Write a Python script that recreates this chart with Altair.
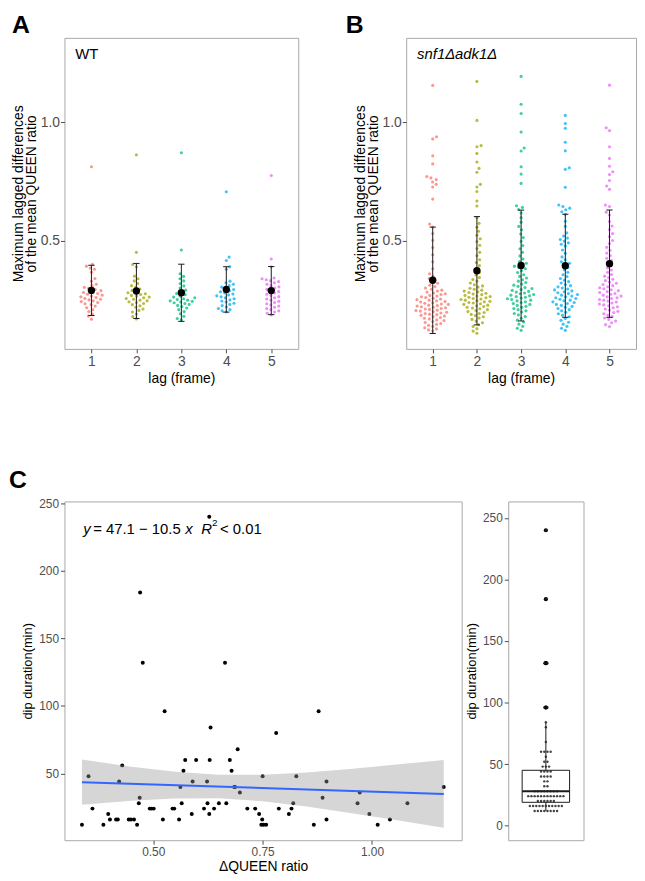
import altair as alt
import numpy as np
import pandas as pd

FONT = "Liberation Sans"
LAGS = [1, 2, 3, 4, 5]
LAG_COLORS = ["#F8766D", "#A3A500", "#00BF7D", "#00B0F6", "#E76BF3"]

# ---------------- Panel A (WT) ----------------
WT_1 = [0.812, 0.402, 0.394, 0.386, 0.381, 0.368, 0.342, 0.331, 0.318, 0.312, 0.305, 0.301, 0.296,
        0.291, 0.287, 0.283, 0.279, 0.276, 0.272, 0.268, 0.265, 0.262, 0.258, 0.255, 0.252, 0.248,
        0.245, 0.241, 0.236, 0.232, 0.226, 0.219, 0.211, 0.203, 0.192, 0.184, 0.171]
WT_2 = [0.862, 0.452, 0.401, 0.391, 0.352, 0.341, 0.332, 0.321, 0.312, 0.305, 0.298, 0.292, 0.287,
        0.282, 0.278, 0.275, 0.271, 0.268, 0.264, 0.261, 0.258, 0.255, 0.251, 0.248, 0.244, 0.241,
        0.237, 0.232, 0.227, 0.221, 0.214, 0.208, 0.201, 0.193, 0.182, 0.172]
WT_3 = [0.871, 0.462, 0.362, 0.351, 0.341, 0.332, 0.321, 0.311, 0.302, 0.293, 0.285, 0.279, 0.274,
        0.268, 0.264, 0.261, 0.257, 0.254, 0.251, 0.248, 0.246, 0.243, 0.240, 0.237, 0.233, 0.229,
        0.224, 0.218, 0.211, 0.203, 0.194, 0.183, 0.174, 0.168]
WT_4 = [0.707, 0.432, 0.418, 0.392, 0.381, 0.331, 0.324, 0.318, 0.312, 0.306, 0.301, 0.296, 0.291,
        0.286, 0.281, 0.277, 0.273, 0.269, 0.265, 0.261, 0.257, 0.252, 0.247, 0.243, 0.238, 0.233,
        0.228, 0.222, 0.216, 0.211, 0.206, 0.201]
WT_5 = [0.775, 0.424, 0.391, 0.344, 0.341, 0.337, 0.333, 0.329, 0.324, 0.318, 0.312, 0.307, 0.302,
        0.297, 0.292, 0.287, 0.281, 0.276, 0.271, 0.266, 0.261, 0.256, 0.251, 0.246, 0.241, 0.236,
        0.231, 0.226, 0.221, 0.216, 0.211, 0.206, 0.201, 0.196, 0.189]

# ---------------- Panel B (snf1Δadk1Δ) ----------------
SA_1 = [1.154, 0.938, 0.929, 0.858, 0.824, 0.771, 0.765, 0.758, 0.748, 0.738, 0.727, 0.676,
        0.571, 0.558, 0.531, 0.503, 0.472, 0.442, 0.412, 0.383, 0.362, 0.351, 0.342, 0.331,
        0.322, 0.314, 0.308, 0.302, 0.297, 0.293, 0.289, 0.285, 0.281, 0.278,
        0.275, 0.271, 0.268, 0.265, 0.262, 0.259, 0.256, 0.253, 0.251, 0.248,
        0.245, 0.243, 0.240, 0.238, 0.235, 0.233, 0.230, 0.228, 0.226, 0.223,
        0.221, 0.219, 0.216, 0.214, 0.212, 0.209, 0.207, 0.205, 0.202, 0.200,
        0.197, 0.195, 0.192, 0.190, 0.187, 0.184, 0.181, 0.178, 0.175, 0.172,
        0.168, 0.165, 0.161, 0.157, 0.153, 0.149, 0.145, 0.140, 0.135, 0.130, 0.126, 0.121]
SA_2 = [1.171, 1.007, 0.901, 0.896, 0.868, 0.832, 0.805, 0.789, 0.738, 0.727, 0.708, 0.668, 0.647,
        0.598, 0.574, 0.558, 0.541, 0.524, 0.509, 0.497, 0.482, 0.468, 0.452, 0.438, 0.421, 0.409,
        0.396, 0.382, 0.368, 0.357, 0.346,
        0.338, 0.331, 0.323, 0.316, 0.311, 0.306, 0.301, 0.297, 0.293, 0.289,
        0.286, 0.283, 0.280, 0.277, 0.274, 0.271, 0.268, 0.266, 0.263, 0.261,
        0.258, 0.256, 0.254, 0.251, 0.249, 0.246, 0.244, 0.241, 0.239, 0.236,
        0.233, 0.230, 0.227, 0.224, 0.221, 0.218, 0.215, 0.211, 0.207, 0.203,
        0.199, 0.195, 0.191, 0.186, 0.181, 0.176, 0.170, 0.163, 0.156, 0.148,
        0.140, 0.131, 0.121, 0.112]
SA_3 = [1.192, 1.075, 1.036, 0.958, 0.891, 0.878, 0.812, 0.781, 0.742, 0.648, 0.641, 0.632,
        0.617, 0.598, 0.579, 0.561, 0.547, 0.529, 0.514, 0.498, 0.481, 0.467, 0.452, 0.437, 0.424,
        0.413, 0.406, 0.399, 0.394, 0.389, 0.383, 0.375, 0.367,
        0.358, 0.351, 0.344, 0.337, 0.331, 0.325, 0.319, 0.314, 0.309, 0.304,
        0.300, 0.296, 0.292, 0.288, 0.285, 0.281, 0.278, 0.275, 0.272, 0.269,
        0.266, 0.263, 0.260, 0.257, 0.254, 0.251, 0.248, 0.244, 0.241, 0.237,
        0.233, 0.229, 0.225, 0.221, 0.216, 0.211, 0.206, 0.201, 0.195, 0.189,
        0.182, 0.175, 0.167, 0.159, 0.150, 0.141, 0.133, 0.124]
SA_4 = [1.028, 0.994, 0.974, 0.915, 0.879, 0.808, 0.801, 0.726, 0.651, 0.645,
        0.638, 0.631, 0.623, 0.612, 0.583, 0.561, 0.534, 0.521, 0.512, 0.506, 0.499, 0.492, 0.486,
        0.479, 0.462, 0.448, 0.433, 0.421, 0.412, 0.406, 0.398, 0.389, 0.379, 0.368,
        0.358, 0.350, 0.342, 0.335, 0.329, 0.323, 0.317, 0.312, 0.307, 0.302,
        0.298, 0.294, 0.290, 0.286, 0.282, 0.279, 0.275, 0.272, 0.268, 0.265,
        0.261, 0.258, 0.255, 0.251, 0.248, 0.244, 0.241, 0.237, 0.233, 0.229,
        0.225, 0.221, 0.216, 0.211, 0.206, 0.200, 0.194, 0.188, 0.181, 0.174,
        0.166, 0.158, 0.150, 0.141, 0.133, 0.124]
SA_5 = [1.155, 0.976, 0.964, 0.896, 0.847, 0.814, 0.791, 0.779, 0.754, 0.731, 0.717, 0.651, 0.645,
        0.621, 0.609, 0.582, 0.563, 0.548, 0.531, 0.518, 0.502, 0.489, 0.473, 0.461, 0.449, 0.438,
        0.427, 0.418, 0.409, 0.398, 0.387, 0.378, 0.368,
        0.359, 0.352, 0.345, 0.339, 0.333, 0.327, 0.322, 0.317, 0.312, 0.307,
        0.303, 0.299, 0.295, 0.291, 0.287, 0.283, 0.279, 0.276, 0.272, 0.268,
        0.265, 0.261, 0.258, 0.254, 0.251, 0.247, 0.243, 0.239, 0.235, 0.231,
        0.227, 0.223, 0.219, 0.214, 0.209, 0.204, 0.199, 0.194, 0.188, 0.182,
        0.176, 0.170, 0.163, 0.156, 0.148, 0.140]

# ---------------- Panel C ----------------
DQ = [0.337, 0.352, 0.361, 0.386, 0.397, 0.401, 0.415, 0.419, 0.422, 0.429, 0.444, 0.449, 0.456,
      0.463, 0.467, 0.469, 0.470, 0.476, 0.492, 0.496, 0.501, 0.522, 0.526, 0.544, 0.548, 0.559,
      0.562, 0.565, 0.569, 0.573, 0.588, 0.590, 0.598, 0.616, 0.623, 0.624, 0.628, 0.629, 0.631,
      0.628, 0.639, 0.650, 0.664, 0.667, 0.675, 0.679, 0.685, 0.687, 0.693, 0.698, 0.715, 0.733,
      0.742, 0.747, 0.749, 0.750, 0.752, 0.758, 0.781, 0.787, 0.810, 0.816, 0.820, 0.827, 0.867,
      0.878, 0.887, 0.896, 0.896, 0.967, 0.972, 0.994, 1.013, 1.041, 1.081, 1.164]
DIP = [12, 48, 24, 12, 20, 16, 16, 16, 44, 56, 16, 16, 16,
       12, 28, 32, 184, 132, 24, 24, 24, 16, 96, 24, 24, 16,
       40, 28, 52, 60, 20, 44, 60, 24, 44, 28, 20, 60, 84,
       240, 24, 28, 132, 28, 60, 52, 40, 40, 68, 36, 24, 24,
       20, 12, 16, 48, 12, 12, 80, 24, 20, 24, 28, 48, 12,
       96, 32, 44, 16, 28, 36, 20, 12, 16, 28, 40]
FIT_INTERCEPT = 47.1
FIT_SLOPE = -10.5
BAND_X = [0.337, 0.45, 0.55, 0.65, 0.75, 0.85, 0.95, 1.05, 1.164]
BAND_LO = [26.8, 29.8, 31.5, 31.6, 29.4, 25.6, 20.8, 15.8, 9.8]
BAND_HI = [60.3, 55.0, 51.2, 49.0, 49.1, 50.8, 53.4, 56.4, 60.0]

# ---------------- layout constants ----------------
A_W, B_W, AB_H = 236, 232, 314
AB_YDOM = [0.046, 1.354]
AB_XDOM = [0.4, 5.6]
C_W, C_H = 401, 342
BOX_W = 76
CAP = 0.07


def swarm_offsets(vals, ppu_y, ppu_x, diam):
    vals = np.asarray(vals, float)
    order = np.argsort(vals, kind="stable")
    py_list, px_list = [], []
    out = np.zeros(len(vals))
    for k, i in enumerate(order):
        y = vals[i] * ppu_y
        cands = [0.0]
        for py, px in zip(py_list, px_list):
            dy = y - py
            if abs(dy) < diam:
                dx = np.sqrt(diam * diam - dy * dy)
                cands += [px + dx, px - dx]
        sign = 1 if k % 2 == 0 else -1
        cands.sort(key=lambda c: (round(abs(c), 6), -sign * c))
        chosen = 0.0
        for c in cands:
            if all((c - px) ** 2 + (y - py) ** 2 >= diam * diam - 1e-6 for py, px in zip(py_list, px_list)):
                chosen = c
                break
        py_list.append(y)
        px_list.append(chosen)
        out[i] = chosen / ppu_x
    return out


def lag_panel(groups, label, italic, letter, letter_dx, width):
    ppu_y = AB_H / (AB_YDOM[1] - AB_YDOM[0])
    ppu_x = width / (AB_XDOM[1] - AB_XDOM[0])
    rows, summ = [], []
    for lag, vals in zip(LAGS, groups):
        off = swarm_offsets(vals, ppu_y, ppu_x, 4.4)
        for v, o in zip(vals, off):
            rows.append({"lag": lag, "value": v, "xpos": lag + o})
        m = float(np.mean(vals))
        s = float(np.std(vals, ddof=1))
        summ.append({"lag": lag, "mean": m, "lo": m - s, "hi": m + s,
                     "cl": lag - CAP, "cr": lag + CAP})
    df = pd.DataFrame(rows)
    sm = pd.DataFrame(summ)
    xs = alt.Scale(domain=AB_XDOM, nice=False, zero=False)
    ys = alt.Scale(domain=AB_YDOM, nice=False, zero=False)
    xa = alt.Axis(values=LAGS, format="d", title="lag (frame)", titlePadding=3)
    ya = alt.Axis(values=[0.5, 1.0], format=".1f",
                  title=["Maximum lagged differences", "of the mean QUEEN ratio"],
                  titleLineHeight=12.5, titlePadding=2, labelPadding=1)
    pts = alt.Chart(df).mark_circle(size=10, opacity=0.75).encode(
        x=alt.X("xpos:Q", scale=xs, axis=xa),
        y=alt.Y("value:Q", scale=ys, axis=ya),
        color=alt.Color("lag:N", scale=alt.Scale(domain=LAGS, range=LAG_COLORS), legend=None),
    )
    bar = alt.Chart(sm).mark_rule(color="#1a1a1a", strokeWidth=1).encode(
        x=alt.X("lag:Q", scale=xs, axis=xa), y=alt.Y("lo:Q", scale=ys, axis=ya), y2="hi:Q")
    cap_hi = alt.Chart(sm).mark_rule(color="#1a1a1a", strokeWidth=1).encode(
        x=alt.X("cl:Q", scale=xs, axis=xa), x2="cr:Q", y=alt.Y("hi:Q", scale=ys, axis=ya))
    cap_lo = alt.Chart(sm).mark_rule(color="#1a1a1a", strokeWidth=1).encode(
        x=alt.X("cl:Q", scale=xs, axis=xa), x2="cr:Q", y=alt.Y("lo:Q", scale=ys, axis=ya))
    mean = alt.Chart(sm).mark_circle(size=55, color="black", opacity=1).encode(
        x=alt.X("lag:Q", scale=xs, axis=xa), y=alt.Y("mean:Q", scale=ys, axis=ya))
    txt = alt.Chart(pd.DataFrame({"t": [label]})).mark_text(
        x=11, y=21, align="left", baseline="alphabetic", fontSize=15, font=FONT,
        fontStyle="italic" if italic else "normal", color="black").encode(text="t:N")
    return alt.layer(pts, bar, cap_hi, cap_lo, mean, txt).properties(
        width=width, height=AB_H,
        title=alt.TitleParams(letter, anchor="start", frame="bounds", fontSize=25,
                              fontWeight="bold", font=FONT, dx=letter_dx, offset=0, color="black"))


panel_a = lag_panel([WT_1, WT_2, WT_3, WT_4, WT_5], "WT", False, "A", 0, A_W)
panel_b = lag_panel([SA_1, SA_2, SA_3, SA_4, SA_5], "snf1Δadk1Δ", True, "B", -8, B_W)

# ---------------- Panel C scatter ----------------
cdf = pd.DataFrame({"dq": DQ, "dip": DIP})
xmin, xmax = min(DQ), max(DQ)
fit = pd.DataFrame({"dq": [xmin, xmax],
                    "dip": [FIT_INTERCEPT + FIT_SLOPE * xmin, FIT_INTERCEPT + FIT_SLOPE * xmax]})
band = pd.DataFrame({"dq": BAND_X, "lo": BAND_LO, "hi": BAND_HI})

cxs = alt.Scale(domain=[0.297, 1.205], nice=False, zero=False)
cys = alt.Scale(domain=[0.6, 251.4], nice=False, zero=False)
cxa = alt.Axis(values=[0.5, 0.75, 1.0], format=".2f", title="ΔQUEEN ratio",
               labelFontSize=12, titleFontSize=14, titlePadding=3)
cya = alt.Axis(values=[0, 50, 100, 150, 200, 250], title="dip duration(min)",
               labelFontSize=12, titleFontSize=13)

c_pts = alt.Chart(cdf).mark_circle(size=16, color="black", opacity=1).encode(
    x=alt.X("dq:Q", scale=cxs, axis=cxa), y=alt.Y("dip:Q", scale=cys, axis=cya))
c_band = alt.Chart(band).mark_area(color="#999999", opacity=0.4).encode(
    x=alt.X("dq:Q", scale=cxs, axis=cxa), y=alt.Y("lo:Q", scale=cys, axis=cya), y2="hi:Q")
c_line = alt.Chart(fit).mark_line(color="#3366FF", strokeWidth=2).encode(
    x=alt.X("dq:Q", scale=cxs, axis=cxa), y=alt.Y("dip:Q", scale=cys, axis=cya))

EQ_PARTS = [("y", "italic", 15, 19, 33), ("= 47.1 − 10.5", "normal", 15, 29, 33),
            ("x", "italic", 15, 122, 33), ("R", "italic", 15, 138, 33),
            ("2", "normal", 10, 149, 25), ("< 0.01", "normal", 15, 157, 33)]
eq_layers = []
for t, st, fs, px, py in EQ_PARTS:
    eq_layers.append(alt.Chart(pd.DataFrame({"t": [t]})).mark_text(
        x=px, y=py, align="left", baseline="alphabetic", fontSize=fs, font=FONT,
        fontStyle=st, color="black").encode(text="t:N"))

panel_c = alt.layer(c_pts, c_band, c_line, *eq_layers).properties(
    width=C_W, height=C_H,
    title=alt.TitleParams("C", anchor="start", frame="bounds", fontSize=25, fontWeight="bold",
                          font=FONT, dx=-13, offset=4, color="black"))

# ---------------- Panel C box + dotplot ----------------
dip = np.asarray(DIP, float)
q1, med, q3 = np.percentile(dip, [25, 50, 75])
iqr = q3 - q1
up_w = dip[dip <= q3 + 1.5 * iqr].max()
lo_w = dip[dip >= q1 - 1.5 * iqr].min()
outl = dip[(dip > q3 + 1.5 * iqr) | (dip < q1 - 1.5 * iqr)]

dots = pd.DataFrame({"dip": DIP})
dots["k"] = dots.groupby("dip").cumcount()
dots["n"] = dots.groupby("dip")["dip"].transform("count")
DOT_STEP = 0.085
dots["xo"] = (dots["k"] - (dots["n"] - 1) / 2.0) * DOT_STEP

BOX_HALF = 0.63
box = pd.DataFrame({"x1": [-BOX_HALF], "x2": [BOX_HALF], "q1": [q1], "q3": [q3], "med": [med],
                    "c": [0.0], "uw": [up_w], "lw": [lo_w]})
outdf = pd.DataFrame({"dip": outl, "c": 0.0})

bxs = alt.Scale(domain=[-1, 1], nice=False, zero=False)
bys = alt.Scale(domain=[-11.8, 263.4], nice=False, zero=False)
bya = alt.Axis(values=[0, 50, 100, 150, 200, 250], title="dip duration(min)",
               labelFontSize=12, titleFontSize=13)

b_rect = alt.Chart(box).mark_rect(fill="white", stroke="#1a1a1a", strokeWidth=1).encode(
    x=alt.X("x1:Q", scale=bxs, axis=None), x2="x2:Q", y=alt.Y("q1:Q", scale=bys, axis=bya), y2="q3:Q")
b_wu = alt.Chart(box).mark_rule(color="#1a1a1a", strokeWidth=1).encode(
    x=alt.X("c:Q", scale=bxs, axis=None), y=alt.Y("q3:Q", scale=bys, axis=bya), y2="uw:Q")
b_wl = alt.Chart(box).mark_rule(color="#1a1a1a", strokeWidth=1).encode(
    x=alt.X("c:Q", scale=bxs, axis=None), y=alt.Y("lw:Q", scale=bys, axis=bya), y2="q1:Q")
b_med = alt.Chart(box).mark_rule(color="#1a1a1a", strokeWidth=2).encode(
    x=alt.X("x1:Q", scale=bxs, axis=None), x2="x2:Q", y=alt.Y("med:Q", scale=bys, axis=bya))
b_out = alt.Chart(outdf).mark_circle(size=18, color="black", opacity=1).encode(
    x=alt.X("c:Q", scale=bxs, axis=None), y=alt.Y("dip:Q", scale=bys, axis=bya))
b_dots = alt.Chart(dots).mark_circle(size=6, color="#222222", opacity=0.85).encode(
    x=alt.X("xo:Q", scale=bxs, axis=None), y=alt.Y("dip:Q", scale=bys, axis=bya))

panel_box = alt.layer(b_rect, b_wu, b_wl, b_med, b_out, b_dots).properties(width=BOX_W, height=C_H)

top = alt.hconcat(panel_a, panel_b, spacing=109, bounds="flush")
bottom = alt.hconcat(panel_c, panel_box, spacing=47, bounds="flush")

chart = alt.concat(top, bottom, columns=1, spacing=82, align="none").properties(
    padding={"left": 0, "right": 0, "top": 0, "bottom": 0}
).configure_view(
    stroke="#A8A8A8", strokeWidth=1
).configure_axis(
    labelFont=FONT, titleFont=FONT, labelColor="#4D4D4D", titleColor="#000000",
    titleFontWeight="normal", tickColor="#4D4D4D", tickSize=4, grid=False, domain=False,
    labelFontSize=14, titleFontSize=14, labelPadding=2, titlePadding=4
).configure_title(font=FONT)

chart.save("out.html", embed_options={"renderer": "svg", "actions": False})
